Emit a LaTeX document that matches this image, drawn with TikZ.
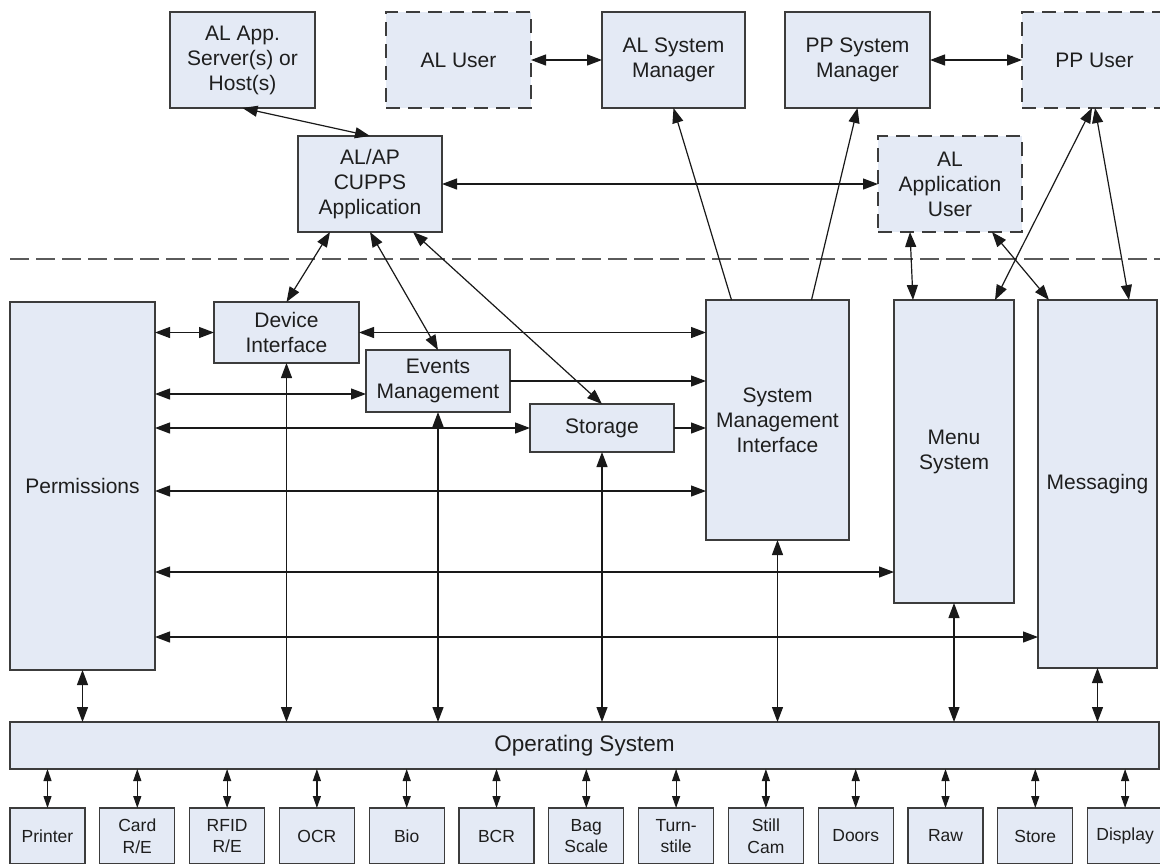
\documentclass[tikz,border=0pt]{standalone}
\usepackage{fontspec}
\setmainfont{Liberation Sans}
\usetikzlibrary{arrows.meta,calc}
\definecolor{boxfill}{RGB}{228,234,245}
\definecolor{boxline}{RGB}{60,60,60}
\definecolor{linecol}{RGB}{25,25,25}
\definecolor{sepcol}{RGB}{90,90,90}
\definecolor{txt}{RGB}{30,30,30}
\tikzset{
  box/.style={draw=boxline, fill=boxfill, line width=1.3pt, inner sep=0pt, outer sep=0pt,
    align=center, text=txt, font=\fontsize{21}{25}\selectfont},
  dbox/.style={box, dash pattern=on 14pt off 8pt},
  devbox/.style={box, font=\fontsize{17.5}{21.5}\selectfont, minimum width=75pt, minimum height=56pt},
  conn/.style={line width=1.2pt, draw=linecol},
  dbl/.style={conn, {Triangle[length=15pt,width=11pt]}-{Triangle[length=15pt,width=11pt]}},
  sgl/.style={conn, -{Triangle[length=15pt,width=11pt]}},
  smalldbl/.style={conn, {Triangle[length=12pt,width=8pt]}-{Triangle[length=12pt,width=8pt]}},
  sepline/.style={draw=sepcol, line width=1.3pt, dash pattern=on 19pt off 7pt},
}
\begin{document}
\begin{tikzpicture}[x=1pt,y=-1pt]
\useasboundingbox (0,0) rectangle (1160,863);
\fill[white] (0,0) rectangle (1160,863);

% top row
\node[box, minimum width=145pt, minimum height=96pt] (alapp) at (242.5,60) {AL App.\\Server(s) or\\Host(s)};
\node[dbox, minimum width=145pt, minimum height=96pt] (aluser) at (458.5,60) {AL User};
\node[box, minimum width=143pt, minimum height=96pt] (alsys) at (673.5,60) {AL System\\Manager};
\node[box, minimum width=145pt, minimum height=96pt] (ppsys) at (857.5,60) {PP System\\Manager};
\node[dbox, minimum width=145pt, minimum height=96pt] (ppuser) at (1094.5,60) {PP User};

% second row
\node[box, minimum width=144pt, minimum height=96pt] (cupps) at (370,184) {AL/AP\\CUPPS\\Application};
\node[dbox, minimum width=144pt, minimum height=96pt] (alappuser) at (950,184) {AL\\Application\\User};

% separator
\draw[sepline] (10,259) -- (1160,259);

% middle layer
\node[box, minimum width=145pt, minimum height=368pt] (perm) at (82.5,486) {Permissions};
\node[box, minimum width=145pt, minimum height=61pt] (devif) at (286.5,332.5) {Device\\Interface};
\node[box, minimum width=144pt, minimum height=62pt] (events) at (438,381) {Events\\Management};
\node[box, minimum width=144pt, minimum height=48pt] (storage) at (602,428) {Storage};
\node[box, minimum width=143pt, minimum height=240pt] (smi) at (777.5,420) {System\\Management\\Interface};
\node[box, minimum width=120pt, minimum height=303pt] (menu) at (954,451.5) {Menu\\System};
\node[box, minimum width=119pt, minimum height=368pt] (msg) at (1097.5,484) {Messaging};

% operating system
\node[box, font=\fontsize{22.5}{26}\selectfont, minimum width=1149pt, minimum height=47pt] (os) at (584.5,745.5) {Operating System};

% devices
\foreach \i/\t in {1/Printer, 2/{Card\\R/E}, 3/{RFID\\R/E}, 4/OCR, 5/Bio, 6/BCR, 7/{Bag\\Scale},
  8/{Turn-\\stile}, 9/{Still\\Cam}, 10/Doors, 11/Raw, 12/Store, 13/Display}{
  \node[devbox] (b\i) at ({47.5+89.8*(\i-1)},836) {\t};
  \draw[smalldbl] (b\i.north |- os.south) -- (b\i.north);
}

% top connectors
\draw[dbl] (alapp.south) -- (cupps.north);
\draw[dbl] (aluser.east) -- (alsys.west);
\draw[dbl] (ppsys.east) -- (ppuser.west);
\draw[dbl] (cupps.east) -- (alappuser.west);
\draw[dbl] ([xshift=-40pt]cupps.south) -- (devif.north);
\draw[dbl] (cupps.south) -- (events.north);
\draw[dbl] ([xshift=43pt]cupps.south) -- (storage.north);
\draw[sgl] ([xshift=-46pt]smi.north) -- (alsys.south);
\draw[sgl] ([xshift=34pt]smi.north) -- (ppsys.south);
\draw[dbl] ([xshift=-40pt]alappuser.south) -- ([xshift=-41pt]menu.north);
\draw[dbl] ([xshift=42pt]alappuser.south) -- ([xshift=-48.5pt]msg.north);
\draw[dbl] ([xshift=-2.5pt]ppuser.south) -- ([xshift=41pt]menu.north);
\draw[dbl] ([xshift=0.5pt]ppuser.south) -- ([xshift=31.5pt]msg.north);

% horizontal connectors
\draw[dbl] (devif.west -| perm.east) -- (devif.west);
\draw[dbl] (devif.east) -- (devif.east -| smi.west);
\draw[dbl] ([yshift=-13pt]events.west -| perm.east) -- ([yshift=-13pt]events.west);
\draw[sgl] (events.east) -- (events.east -| smi.west);
\draw[dbl] (storage.west -| perm.east) -- (storage.west);
\draw[sgl] (storage.east) -- (storage.east -| smi.west);
\draw[dbl] ([yshift=-5pt]perm.east) -- ([yshift=-5pt]perm.east -| smi.west);
\draw[dbl] ([yshift=-86pt]perm.east) -- ([yshift=-86pt]perm.east -| menu.west);
\draw[dbl] ([yshift=-151pt]perm.east) -- ([yshift=-151pt]perm.east -| msg.west);

% vertical connectors to OS
\foreach \n in {perm, devif, events, storage, smi, menu, msg}{
  \draw[dbl] (\n.south) -- (\n.south |- os.north);
}
\end{tikzpicture}
\end{document}
